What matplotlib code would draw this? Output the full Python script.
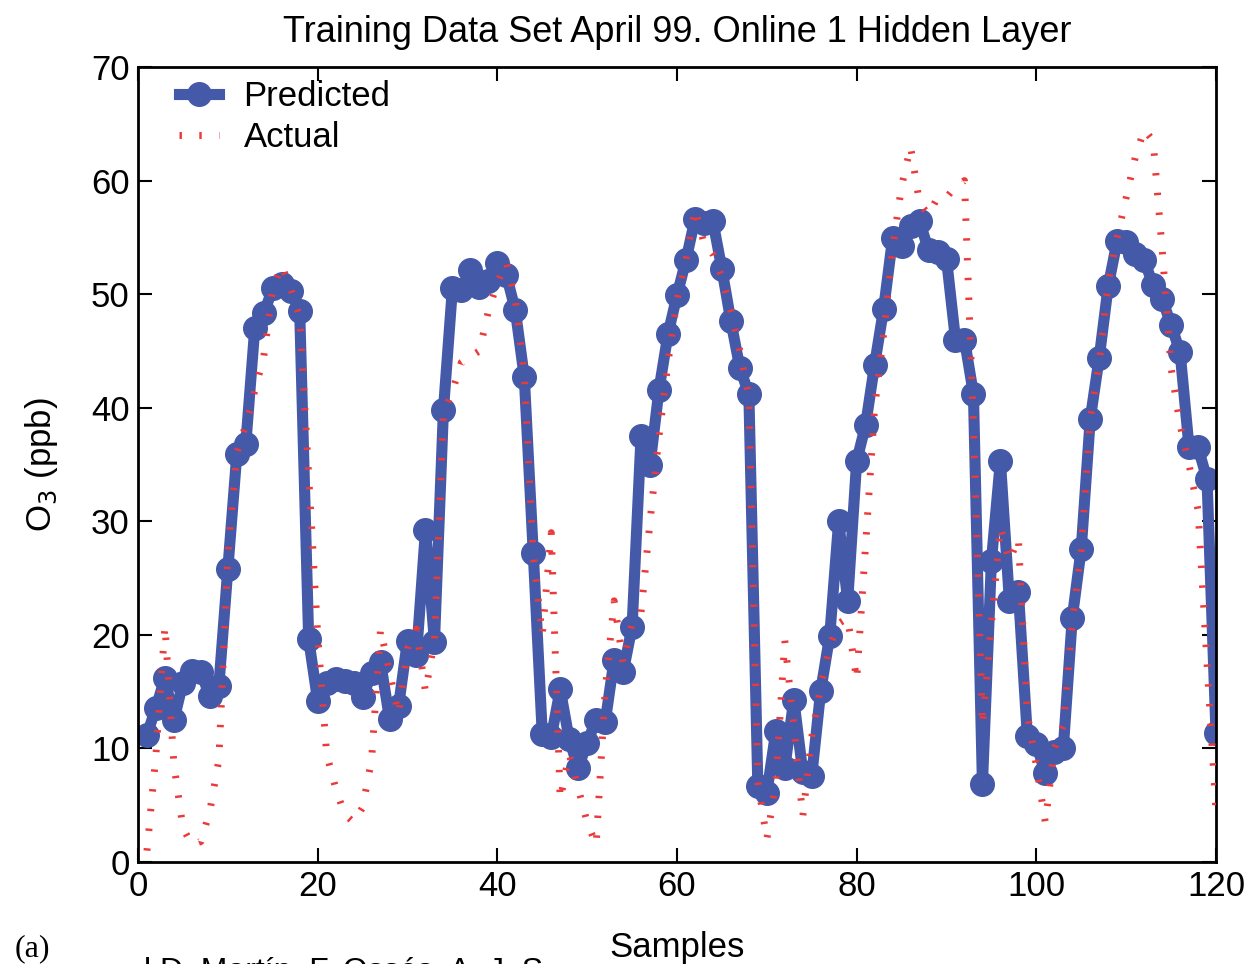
import matplotlib
matplotlib.use("Agg")
import matplotlib.pyplot as plt

plt.rcParams['font.family'] = ['Liberation Sans', 'DejaVu Sans']

samples = list(range(1, 121))

predicted = [
    11.2, 13.6, 16.2, 12.5, 15.8, 16.8, 16.7, 14.6, 15.5, 25.8,
    35.9, 36.8, 47.0, 48.3, 50.5, 50.9, 50.3, 48.5, 19.6, 14.2,
    15.8, 16.1, 15.9, 15.8, 14.5, 16.6, 17.6, 12.6, 13.7, 19.5,
    18.2, 29.2, 19.4, 39.8, 50.5, 50.4, 52.1, 50.6, 51.2, 52.7,
    51.7, 48.6, 42.7, 27.2, 11.3, 11.0, 15.2, 10.8, 8.3, 10.5,
    12.5, 12.3, 17.8, 16.7, 20.7, 37.5, 35.0, 41.6, 46.5, 49.9,
    53.0, 56.6, 56.3, 56.4, 52.2, 47.6, 43.5, 41.2, 6.7, 6.1,
    11.5, 8.3, 14.3, 7.9, 7.6, 15.1, 19.9, 30.0, 23.0, 35.3,
    38.5, 43.8, 48.7, 54.9, 54.2, 56.0, 56.4, 53.9, 53.7, 53.1,
    46.0, 46.0, 41.2, 6.9, 26.5, 35.3, 23.0, 23.8, 11.1, 10.4,
    7.8, 9.7, 10.0, 21.5, 27.6, 39.0, 44.4, 50.7, 54.7, 54.6,
    53.5, 53.0, 50.8, 49.6, 47.3, 44.9, 36.5, 36.5, 33.7, 11.4,
]

actual = [
    1.0, 9.5, 20.8, 8.6, 3.0, 1.5, 1.8, 4.5, 9.0, 27.0,
    36.0, 38.5, 41.5, 44.5, 50.5, 52.5, 50.5, 48.0, 34.0, 20.0,
    9.5, 6.5, 4.2, 3.5, 4.8, 9.0, 20.5, 16.7, 13.0, 18.8,
    20.5, 15.0, 19.5, 39.5, 41.5, 44.0, 44.5, 45.0, 48.5, 51.0,
    52.8, 49.5, 43.0, 27.0, 20.0, 29.0, 5.5, 9.5, 6.5, 3.5,
    1.5, 15.0, 23.0, 17.5, 21.0, 22.0, 30.0, 37.5, 44.0, 49.5,
    53.0, 57.5, 54.5, 53.5, 51.5, 48.5, 45.0, 41.0, 7.0, 2.0,
    7.0, 19.5, 12.0, 4.0, 11.0, 15.5, 19.0, 21.0, 21.5, 16.0,
    28.0, 40.0, 46.5, 54.0, 59.5, 63.0, 58.0, 57.0, 58.5, 58.5,
    59.5, 60.0, 38.5, 12.0, 21.0, 29.5, 26.5, 28.5, 13.0, 8.5,
    3.5, 10.0, 12.0, 21.0, 27.5, 39.0, 44.0, 51.0, 55.0, 58.5,
    62.0, 64.5, 63.5, 54.0, 43.5, 38.5, 35.0, 31.0, 17.5, 4.5,
]

fig = plt.figure(figsize=(12.5, 9.64), dpi=100)
ax = fig.add_axes([0.1104, 0.1058, 0.8624, 0.8247])

# predicted series: thick line with big round markers
ax.plot(samples, predicted, color='#4559a9', lw=8, marker='o', markersize=17,
        label='Predicted', zorder=2)
# actual series: short red dashes drawn on top
ax.plot(samples, actual, color='#ec3a3a', lw=5, dashes=(0.35, 2.5),
        dash_capstyle='butt', label='Actual', zorder=3)

ax.set_xlim(0, 120)
ax.set_ylim(0, 70)
ax.set_xticks(range(0, 121, 20))
ax.set_yticks(range(0, 71, 10))
ax.tick_params(direction='in', length=10, width=1.5, labelsize=25,
               top=True, right=True, pad=6)
for s in ax.spines.values():
    s.set_linewidth(2)

ax.set_title('Training Data Set April 99. Online 1 Hidden Layer', fontsize=26, pad=18)
ax.set_xlabel('Samples', fontsize=25, labelpad=20)
ax.set_ylabel('O$_3$ (ppb)', fontsize=25, labelpad=22)

ax.legend(loc='upper left', bbox_to_anchor=(0.028, 0.997), frameon=False,
          fontsize=25, handlelength=1.15, handletextpad=0.72,
          borderaxespad=0, borderpad=0.3, labelspacing=0.25)

fig.text(0.012, 0.008, '(a)', fontsize=23, family='Liberation Serif')
# caption line of the page below, cut by the lower edge
fig.text(0.115, 0.0075, 'l D. Martín, F. Ossés, A. J. S', fontsize=23, va='top')

fig.savefig('out.png', dpi=100)
